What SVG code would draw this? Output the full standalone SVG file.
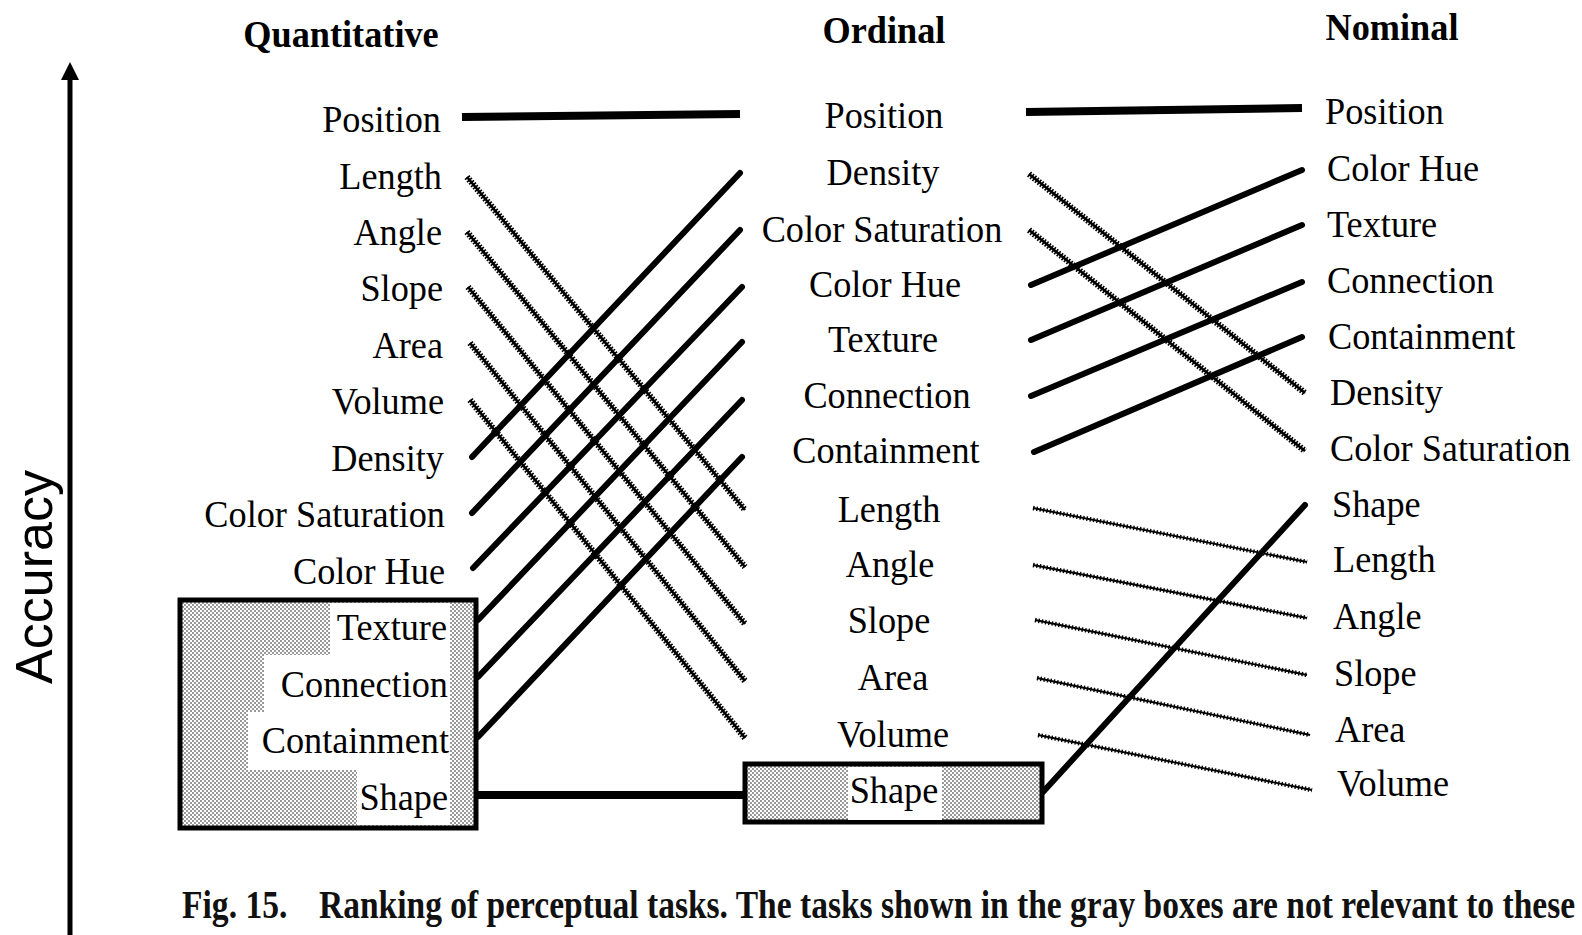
<svg xmlns="http://www.w3.org/2000/svg" width="1582" height="935" viewBox="0 0 1582 935">
<style>
.lbl{font-family:"Liberation Serif","Times New Roman",serif;font-size:39px;fill:#000}
.hdr{font-family:"Liberation Serif","Times New Roman",serif;font-size:39px;font-weight:bold;fill:#000}
.cap{font-family:"Liberation Serif","Times New Roman",serif;font-size:40px;font-weight:bold;fill:#111}
.e{text-anchor:end}.m{text-anchor:middle}
.solid{stroke:#000;stroke-width:6;stroke-linecap:round;fill:none}
.thick{stroke:#000;stroke-width:8;stroke-linecap:butt;fill:none}
.hcore{stroke:#000;stroke-width:2.6;fill:none}
.hatch{stroke:#000;stroke-width:6.5;stroke-dasharray:1.6 1.5;fill:none}
.wcore{stroke:#000;stroke-width:1.8;fill:none}
.wave{stroke:#000;stroke-width:4.5;stroke-dasharray:1.4 2;fill:none}
.box{stroke:#000;stroke-width:5;fill:url(#stip)}
</style>
<defs>
<pattern id="stip" patternUnits="userSpaceOnUse" width="4" height="4">
<rect width="4" height="4" fill="#fff"/>
<circle cx="1" cy="1" r="0.75" fill="#000"/>
<circle cx="3" cy="3" r="0.75" fill="#000"/>
</pattern>
</defs>
<rect width="1582" height="935" fill="#fff"/>

<g id="axis">
<line x1="70" y1="935" x2="70" y2="78" stroke="#000" stroke-width="5"/>
<polygon points="70,62 61,80 79,80" fill="#000"/>
<text transform="translate(52 577) rotate(-90)" text-anchor="middle" font-family="Liberation Sans, Arial, sans-serif" font-size="52" fill="#000">Accuracy</text>
</g>

<g id="headers">
<text class="hdr m" transform="matrix(0.93 0 0 1 341 47)">Quantitative</text>
<text class="hdr m" transform="matrix(0.93 0 0 1 884 43)">Ordinal</text>
<text class="hdr m" transform="matrix(0.93 0 0 1 1392 40)">Nominal</text>
</g>

<g id="gray-box-left">
<rect class="box" x="180" y="600" width="296" height="228"/>
<rect x="330" y="603" width="120" height="52" fill="#fff"/>
<rect x="264" y="655" width="186" height="57" fill="#fff"/>
<rect x="248" y="712" width="202" height="58" fill="#fff"/>
<rect x="357" y="770" width="93" height="55" fill="#fff"/>
</g>
<g id="gray-box-mid">
<rect class="box" x="745" y="764" width="297" height="58"/>
<rect x="848" y="767" width="94" height="53" fill="#fff"/>
</g>

<g id="connectors">
<line class="thick" x1="462" y1="117" x2="740" y2="114"/>
<line class="thick" x1="476" y1="795" x2="747" y2="795"/>
<line class="thick" x1="1026" y1="112" x2="1302" y2="108"/>
<g>
<line class="hcore" x1="467" y1="177" x2="745" y2="510"/><line class="hatch" x1="467" y1="177" x2="745" y2="510"/>
<line class="hcore" x1="467" y1="232" x2="745" y2="567"/><line class="hatch" x1="467" y1="232" x2="745" y2="567"/>
<line class="hcore" x1="468" y1="287" x2="745" y2="624"/><line class="hatch" x1="468" y1="287" x2="745" y2="624"/>
<line class="hcore" x1="470" y1="343" x2="745" y2="681"/><line class="hatch" x1="470" y1="343" x2="745" y2="681"/>
<line class="hcore" x1="470" y1="400" x2="745" y2="738"/><line class="hatch" x1="470" y1="400" x2="745" y2="738"/>
<line class="hcore" x1="1029" y1="174" x2="1305" y2="393"/><line class="hatch" x1="1029" y1="174" x2="1305" y2="393"/>
<line class="hcore" x1="1029" y1="230" x2="1305" y2="451"/><line class="hatch" x1="1029" y1="230" x2="1305" y2="451"/>
</g>
<line class="solid" x1="472" y1="457" x2="740" y2="173"/>
<line class="solid" x1="472" y1="513" x2="740" y2="230"/>
<line class="solid" x1="473" y1="568" x2="742" y2="287"/>
<line class="solid" x1="478" y1="620" x2="742" y2="342"/>
<line class="solid" x1="478" y1="677" x2="742" y2="400"/>
<line class="solid" x1="478" y1="737" x2="742" y2="457"/>
<line class="solid" x1="1031" y1="285" x2="1302" y2="170"/>
<line class="solid" x1="1031" y1="340" x2="1302" y2="225"/>
<line class="solid" x1="1031" y1="396" x2="1302" y2="282"/>
<line class="solid" x1="1034" y1="452" x2="1302" y2="337"/>
<g>
<line class="wcore" x1="1033" y1="508" x2="1307" y2="562"/><line class="wave" x1="1033" y1="508" x2="1307" y2="562"/>
<line class="wcore" x1="1033" y1="565" x2="1307" y2="618"/><line class="wave" x1="1033" y1="565" x2="1307" y2="618"/>
<line class="wcore" x1="1035" y1="620" x2="1307" y2="675"/><line class="wave" x1="1035" y1="620" x2="1307" y2="675"/>
<line class="wcore" x1="1037" y1="678" x2="1310" y2="735"/><line class="wave" x1="1037" y1="678" x2="1310" y2="735"/>
<line class="wcore" x1="1038" y1="735" x2="1312" y2="790"/><line class="wave" x1="1038" y1="735" x2="1312" y2="790"/>
</g>
<line class="solid" x1="1043" y1="792" x2="1305" y2="505"/>
</g>

<g id="quantitative">
<g id="q-position"><text class="lbl e" transform="matrix(0.93 0 0 1 441 132)">Position</text></g>
<g id="q-length"><text class="lbl e" transform="matrix(0.93 0 0 1 442 189)">Length</text></g>
<g id="q-angle"><text class="lbl e" transform="matrix(0.93 0 0 1 442 245)">Angle</text></g>
<g id="q-slope"><text class="lbl e" transform="matrix(0.93 0 0 1 443 301)">Slope</text></g>
<g id="q-area"><text class="lbl e" transform="matrix(0.93 0 0 1 443 358)">Area</text></g>
<g id="q-volume"><text class="lbl e" transform="matrix(0.93 0 0 1 444 414)">Volume</text></g>
<g id="q-density"><text class="lbl e" transform="matrix(0.93 0 0 1 444 471)">Density</text></g>
<g id="q-colorsat"><text class="lbl e" transform="matrix(0.93 0 0 1 445 527)">Color Saturation</text></g>
<g id="q-colorhue"><text class="lbl e" transform="matrix(0.93 0 0 1 445 584)">Color Hue</text></g>
<g id="q-texture"><text class="lbl e" transform="matrix(0.93 0 0 1 447 640)">Texture</text></g>
<g id="q-connection"><text class="lbl e" transform="matrix(0.93 0 0 1 448 697)">Connection</text></g>
<g id="q-containment"><text class="lbl e" transform="matrix(0.93 0 0 1 449 753)">Containment</text></g>
<g id="q-shape"><text class="lbl e" transform="matrix(0.93 0 0 1 448 810)">Shape</text></g>
</g>

<g id="ordinal">
<g id="o-position"><text class="lbl m" transform="matrix(0.93 0 0 1 884 128)">Position</text></g>
<g id="o-density"><text class="lbl m" transform="matrix(0.93 0 0 1 883 185)">Density</text></g>
<g id="o-colorsat"><text class="lbl m" transform="matrix(0.93 0 0 1 882 242)">Color Saturation</text></g>
<g id="o-colorhue"><text class="lbl m" transform="matrix(0.93 0 0 1 885 297)">Color Hue</text></g>
<g id="o-texture"><text class="lbl m" transform="matrix(0.93 0 0 1 883 352)">Texture</text></g>
<g id="o-connection"><text class="lbl m" transform="matrix(0.93 0 0 1 887 408)">Connection</text></g>
<g id="o-containment"><text class="lbl m" transform="matrix(0.93 0 0 1 886 463)">Containment</text></g>
<g id="o-length"><text class="lbl m" transform="matrix(0.93 0 0 1 889 522)">Length</text></g>
<g id="o-angle"><text class="lbl m" transform="matrix(0.93 0 0 1 890 577)">Angle</text></g>
<g id="o-slope"><text class="lbl m" transform="matrix(0.93 0 0 1 889 633)">Slope</text></g>
<g id="o-area"><text class="lbl m" transform="matrix(0.93 0 0 1 893 690)">Area</text></g>
<g id="o-volume"><text class="lbl m" transform="matrix(0.93 0 0 1 893 747)">Volume</text></g>
<g id="o-shape"><text class="lbl m" transform="matrix(0.93 0 0 1 894 803)">Shape</text></g>
</g>

<g id="nominal">
<g id="n-position"><text class="lbl" transform="matrix(0.93 0 0 1 1325 124)">Position</text></g>
<g id="n-colorhue"><text class="lbl" transform="matrix(0.93 0 0 1 1327 181)">Color Hue</text></g>
<g id="n-texture"><text class="lbl" transform="matrix(0.93 0 0 1 1327 237)">Texture</text></g>
<g id="n-connection"><text class="lbl" transform="matrix(0.93 0 0 1 1327 293)">Connection</text></g>
<g id="n-containment"><text class="lbl" transform="matrix(0.93 0 0 1 1328 349)">Containment</text></g>
<g id="n-density"><text class="lbl" transform="matrix(0.93 0 0 1 1330 405)">Density</text></g>
<g id="n-colorsat"><text class="lbl" transform="matrix(0.93 0 0 1 1330 461)">Color Saturation</text></g>
<g id="n-shape"><text class="lbl" transform="matrix(0.93 0 0 1 1332 517)">Shape</text></g>
<g id="n-length"><text class="lbl" transform="matrix(0.93 0 0 1 1333 572)">Length</text></g>
<g id="n-angle"><text class="lbl" transform="matrix(0.93 0 0 1 1333 629)">Angle</text></g>
<g id="n-slope"><text class="lbl" transform="matrix(0.93 0 0 1 1334 686)">Slope</text></g>
<g id="n-area"><text class="lbl" transform="matrix(0.93 0 0 1 1335 742)">Area</text></g>
<g id="n-volume"><text class="lbl" transform="matrix(0.93 0 0 1 1337 796)">Volume</text></g>
</g>

<g id="caption">
<text class="cap" transform="matrix(0.84 0 0 1 182 918)">Fig. 15.</text>
<text class="cap" transform="matrix(0.838 0 0 1 319 918)">Ranking of perceptual tasks. The tasks shown in the gray boxes are not relevant to these</text>
</g>
</svg>
